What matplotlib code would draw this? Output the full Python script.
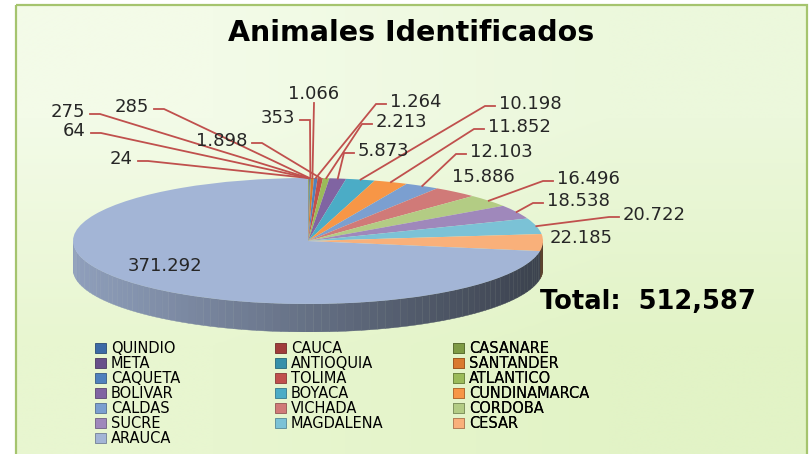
import numpy as np
import matplotlib.pyplot as plt
from matplotlib.patches import Patch, Rectangle
from matplotlib.colors import to_rgb

# datos
departamentos = ['QUINDIO', 'CAUCA', 'CASANARE', 'META', 'ANTIOQUIA', 'SANTANDER',
                 'CAQUETA', 'TOLIMA', 'ATLANTICO', 'BOLIVAR', 'BOYACA', 'CUNDINAMARCA',
                 'CALDAS', 'VICHADA', 'CORDOBA', 'SUCRE', 'MAGDALENA', 'CESAR', 'ARAUCA']
animales = [24, 64, 275, 285, 353, 1066, 1264, 1898, 2213, 5873, 10198, 11852,
            12103, 15886, 16496, 18538, 20722, 22185, 371292]
colores = ['#3C6AA6', '#A03C3A', '#7E9B44', '#68508A', '#3690AA', '#D97A2F',
           '#4F81BD', '#C0504D', '#9BBB59', '#8064A2', '#4BACC6', '#F79646',
           '#7B9FD0', '#D07A78', '#B3CC84', '#9F88BB', '#7BC2D6', '#F9B07A',
           '#A3B5D6']
titulo = 'Animales Identificados'

# posicion de las etiquetas (pixeles) y alineacion
pos_etiq = [(133, 159), (86, 131), (85, 112), (149, 107), (295, 118), (314, 94),
            (390, 102), (247, 141), (376, 122), (358, 151), (499, 104), (488, 127),
            (470, 152), (452, 177), (557, 179), (547, 201), (623, 215), (550, 238),
            (165, 266)]
ha_etiq = ['right', 'right', 'right', 'right', 'right', 'center',
           'left', 'right', 'left', 'left', 'left', 'left',
           'left', 'left', 'left', 'left', 'left', 'left', 'center']
con_linea = [True] * 13 + [False, True, True, True, False, False]

W, H = 811, 454
fig = plt.figure(figsize=(W / 100, H / 100), dpi=100)
fig.patch.set_facecolor('white')

# fondo con degradado y marco
bg = fig.add_axes([0, 0, 1, 1], zorder=0)
grad = np.array([[[243, 251, 232], [236, 248, 220]],
                 [[232, 246, 208], [226, 243, 198]]]) / 255.0
bg.imshow(grad, extent=(16, 807, H + 5, 5), interpolation='bilinear', aspect='auto')
bg.add_patch(Rectangle((16, 5), 791, H + 10, fill=False, edgecolor='#A5C46E', lw=1.6))
bg.set_xlim(0, W)
bg.set_ylim(H, 0)
bg.axis('off')

# pastel 3D (elipse + lateral)
cx, cy, rx, ry, prof = 308, 241, 235, 63, 28
d = prof / ry
ax = fig.add_axes([(cx - rx) / W, (H - (cy + ry + prof)) / H, 2 * rx / W, (2 * ry + prof) / H],
                  zorder=1)
wedges, _ = ax.pie(animales, colors=colores, startangle=90, counterclock=False,
                   wedgeprops=dict(linewidth=0))
for w in wedges:
    w.set_zorder(2)
    base = np.array(to_rgb(w.get_facecolor()))
    for lo, hi in [(-180, 0), (180, 360)]:
        a, b = max(w.theta1, lo), min(w.theta2, hi)
        if b <= a:
            continue
        ts = np.linspace(a, b, max(2, int((b - a) / 2) + 2))
        for t0, t1 in zip(ts[:-1], ts[1:]):
            tt = np.radians(np.linspace(t0, t1, 4))
            xs = np.concatenate([np.cos(tt), np.cos(tt[::-1])])
            ys = np.concatenate([np.sin(tt), np.sin(tt[::-1]) - d])
            f = 0.62 - 0.26 * np.cos(np.radians((t0 + t1) / 2))
            ax.fill(xs, ys, color=base * f, lw=0.3, ec=base * f, zorder=1)
ax.set_aspect('auto')
ax.set_xlim(-1, 1)
ax.set_ylim(-1 - d, 1)
ax.axis('off')

# capa de textos en pixeles
ov = fig.add_axes([0, 0, 1, 1], zorder=3)
ov.set_xlim(0, W)
ov.set_ylim(H, 0)
ov.axis('off')
ov.patch.set_alpha(0)

to_ov = ax.transData + ov.transData.inverted()
for w, v, (tx, ty), ha, linea in zip(wedges, animales, pos_etiq, ha_etiq, con_linea):
    ov.text(tx, ty, f'{v:,}'.replace(',', '.'), ha=ha, va='center',
            fontsize=13, color='#262626')
    if not linea:
        continue
    tm = np.radians((w.theta1 + w.theta2) / 2)
    axp, ayp = to_ov.transform((np.cos(tm), np.sin(tm)))
    if ha == 'right':
        xs, ys = [tx + 5, tx + 15, axp], [ty + 2, ty + 2, ayp]
    elif ha == 'left':
        xs, ys = [tx - 4, tx - 14, axp], [ty + 2, ty + 2, ayp]
    else:
        xs, ys = [tx, axp], [ty + 9, ayp]
    ov.plot(xs, ys, color='#C0504D', lw=1.3, solid_joinstyle='miter')

ov.text(411, 33, titulo, ha='center', va='center', fontsize=20.5, fontweight='bold')
ov.text(540, 302, f'Total:  {sum(animales):,}', ha='left', va='center',
        fontsize=18.5, fontweight='bold')

# leyenda en 3 columnas (orden por filas)
handles = [Patch(facecolor=c, edgecolor=tuple(np.array(to_rgb(c)) * 0.7), lw=0.6)
           for c in colores]
xcols = [95, 275, 453]
for k, xc in enumerate(xcols):
    idx = list(range(k, len(departamentos), 3))
    leg = ov.legend([handles[i] for i in idx], [departamentos[i] for i in idx],
                    loc='upper left', bbox_to_anchor=(xc, 341), bbox_transform=ov.transData,
                    frameon=False, fontsize=10.5, labelspacing=0.0, handlelength=0.75,
                    handleheight=0.65, handletextpad=0.35, borderpad=0, borderaxespad=0)
    ov.add_artist(leg)

fig.savefig('out.png', dpi=100)
